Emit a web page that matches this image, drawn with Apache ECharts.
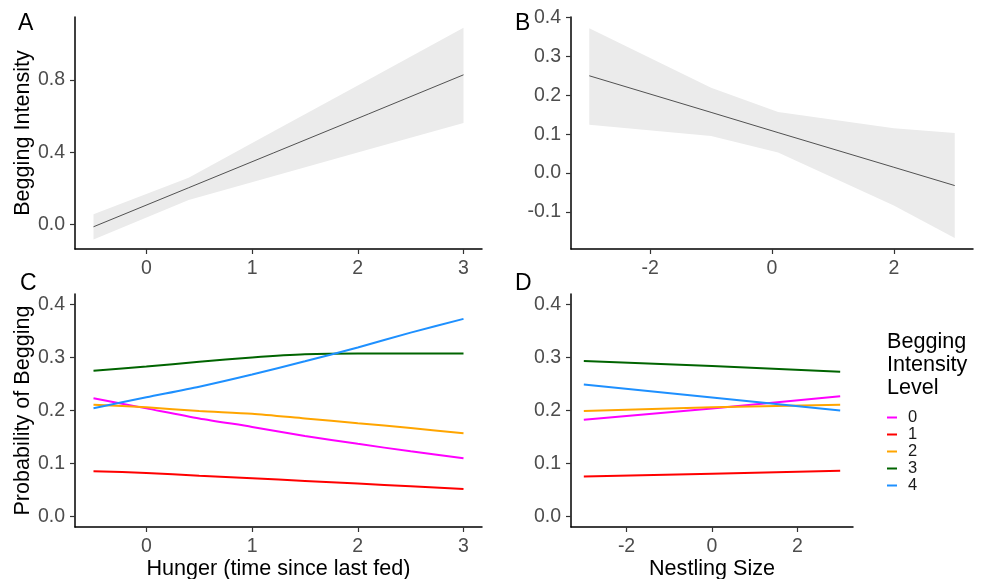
<!DOCTYPE html>
<html>
<head>
<meta charset="utf-8">
<script src="https://cdn.jsdelivr.net/npm/echarts@6/dist/echarts.min.js"></script>
<style>
  html, body { margin: 0; padding: 0; background: #fff; }
  #chart { width: 981px; height: 579px; }
</style>
</head>
<body>
<div id="chart"></div>
<script>
// panel A: begging intensity vs hunger (fit + 95% band)
const hungerX = [-0.5, 0.4, 1.2, 2.1, 3]
const hungerFit = [-0.013, 0.203, 0.395, 0.611, 0.828]
const hungerLower = [-0.083, 0.135, 0.266, 0.414, 0.561]
const hungerUpper = [0.056, 0.259, 0.514, 0.801, 1.089]

// panel B: begging intensity vs nestling size
const sizeX = [-3, -1, 0.1, 2, 3]
const sizeFit = [0.250, 0.156, 0.104, 0.015, -0.032]
const sizeLower = [0.124, 0.095, 0.053, -0.083, -0.167]
const sizeUpper = [0.372, 0.219, 0.157, 0.115, 0.103]

// panel C: probability of each begging level vs hunger
const hungerGrid = [-0.5, 0, 0.5, 1, 1.5, 2, 2.5, 3]
const hungerProb = {
  '0': [0.223, 0.204, 0.185, 0.169, 0.152, 0.137, 0.123, 0.110],
  '1': [0.0855, 0.082, 0.077, 0.072, 0.067, 0.062, 0.057, 0.0516],
  '2': [0.211, 0.206, 0.199, 0.194, 0.185, 0.176, 0.167, 0.157],
  '3': [0.275, 0.283, 0.292, 0.300, 0.306, 0.3075, 0.3075, 0.3075],
  '4': [0.2044, 0.225, 0.245, 0.268, 0.293, 0.319, 0.347, 0.373]
}

// panel D: probability of each begging level vs nestling size
const sizeGrid = [-3, 0, 3]
const sizeProb = {
  '0': [0.1824, 0.204, 0.227],
  '1': [0.0755, 0.0805, 0.086],
  '2': [0.199, 0.206, 0.211],
  '3': [0.2937, 0.284, 0.273],
  '4': [0.249, 0.2245, 0.200]
}

const levels = ['0', '1', '2', '3', '4']
const levelColors = ['#FF00FF', '#FF0000', '#FFA500', '#006400', '#1E90FF']

// tick values
const hungerTicks = [0, 1, 2, 3]
const sizeTicks = [-2, 0, 2]
const intensityTicksA = [0, 0.4, 0.8]
const intensityTicksB = [-0.1, 0, 0.1, 0.2, 0.3, 0.4]
const probTicks = [0, 0.1, 0.2, 0.3, 0.4]

const FONT = 'Liberation Sans, Arial, sans-serif'
const zip = (xs, ys) => xs.map((x, i) => [x, ys[i]])

const labelStyle = (ticks, margin, formatter) => ({
  customValues: ticks,
  color: '#4d4d4d',
  fontSize: 19.5,
  fontFamily: FONT,
  margin,
  formatter: formatter || (v => v)
})

const makeAxis = (gridIndex, min, max, ticks, extra) => Object.assign({
  type: 'value',
  gridIndex,
  min,
  max,
  splitLine: { show: false },
  axisLine: { show: true, onZero: false, lineStyle: { color: '#000', width: 1.5 } },
  axisTick: { show: true, length: 5, customValues: ticks, lineStyle: { color: '#333', width: 1.2 } },
  nameTextStyle: { color: '#000', fontSize: 21.6, fontFamily: FONT }
}, extra || {})

const yFmt = v => v.toFixed(1)

const xAxes = [
  makeAxis(0, -0.675, 3.175, hungerTicks, { axisLabel: labelStyle(hungerTicks, 10) }),
  makeAxis(1, -3.3, 3.3, sizeTicks, { axisLabel: labelStyle(sizeTicks, 10) }),
  makeAxis(2, -0.675, 3.175, hungerTicks, {
    axisLabel: labelStyle(hungerTicks, 10),
    name: 'Hunger (time since last fed)', nameLocation: 'middle', nameGap: 31
  }),
  makeAxis(3, -3.3, 3.3, sizeTicks, {
    axisLabel: labelStyle(sizeTicks, 10),
    name: 'Nestling Size', nameLocation: 'middle', nameGap: 31
  })
]

const yAxes = [
  makeAxis(0, -0.136, 1.148, intensityTicksA, {
    axisLabel: labelStyle(intensityTicksA, 10, yFmt),
    name: 'Begging Intensity', nameLocation: 'middle', nameGap: 41
  }),
  makeAxis(1, -0.195, 0.401, intensityTicksB, { axisLabel: labelStyle(intensityTicksB, 10, yFmt) }),
  makeAxis(2, -0.02, 0.42, probTicks, {
    axisLabel: labelStyle(probTicks, 10, yFmt),
    name: 'Probability of Begging', nameLocation: 'middle', nameGap: 41
  }),
  makeAxis(3, -0.02, 0.42, probTicks, { axisLabel: labelStyle(probTicks, 10, yFmt) })
]

// confidence band drawn as one polygon through the axis scales
const bandSeries = (idx, xs, lower, upper, fit) => [
  {
    type: 'custom', xAxisIndex: idx, yAxisIndex: idx, silent: true,
    data: xs.map((x, i) => [x, lower[i], upper[i]]),
    encode: { x: 0, y: [1, 2] },
    renderItem: (params, api) => {
      if (params.dataIndex !== 0) return null
      const top = xs.map((x, i) => api.coord([x, upper[i]]))
      const bottom = xs.map((x, i) => api.coord([x, lower[i]])).reverse()
      return {
        type: 'polygon',
        shape: { points: top.concat(bottom) },
        style: { fill: '#ebebeb' }
      }
    }
  },
  {
    type: 'line', xAxisIndex: idx, yAxisIndex: idx,
    data: zip(xs, fit), symbol: 'none',
    lineStyle: { color: '#404040', width: 0.9 }
  }
]

const probSeries = (idx, xs, probs, smooth) => levels.map((lv, i) => ({
  name: lv,
  type: 'line', xAxisIndex: idx, yAxisIndex: idx,
  data: zip(xs, probs[lv]), symbol: 'none',
  smooth,
  itemStyle: { color: levelColors[i] },
  lineStyle: { color: levelColors[i], width: 2 }
}))

const panelLetter = (txt, left, top) => ({
  type: 'text', left, top,
  style: { text: txt, fill: '#000', font: '23px ' + FONT }
})

const chart = echarts.init(document.getElementById('chart'))
chart.setOption({
  animation: false,
  backgroundColor: '#fff',
  grid: [
    { left: 75, top: 17, width: 407, height: 232, outerBoundsMode: 'none' },
    { left: 571, top: 17, width: 402, height: 232, outerBoundsMode: 'none' },
    { left: 75, top: 294, width: 407, height: 233, outerBoundsMode: 'none' },
    { left: 571, top: 294, width: 282, height: 233, outerBoundsMode: 'none' }
  ],
  xAxis: xAxes,
  yAxis: yAxes,
  legend: {
    data: levels,
    orient: 'vertical',
    left: 887,
    top: 409,
    padding: 0,
    itemGap: 0,
    icon: 'rect',
    itemWidth: 10,
    itemHeight: 2,
    selectedMode: false,
    textStyle: { color: '#1a1a1a', fontSize: 16.5, fontFamily: FONT, lineHeight: 16.4, padding: [0, 0, 0, 6] }
  },
  graphic: [
    panelLetter('A', 18, 12),
    panelLetter('B', 515, 12),
    panelLetter('C', 20, 272),
    panelLetter('D', 515, 272),
    {
      type: 'text', left: 887, top: 330,
      style: { text: 'Begging\nIntensity\nLevel', fill: '#000', font: '21.6px ' + FONT, lineHeight: 23.3 }
    }
  ],
  series: [
    ...bandSeries(0, hungerX, hungerLower, hungerUpper, hungerFit),
    ...bandSeries(1, sizeX, sizeLower, sizeUpper, sizeFit),
    ...probSeries(2, hungerGrid, hungerProb, 0.25),
    ...probSeries(3, sizeGrid, sizeProb, false)
  ]
})
</script>
</body>
</html>
